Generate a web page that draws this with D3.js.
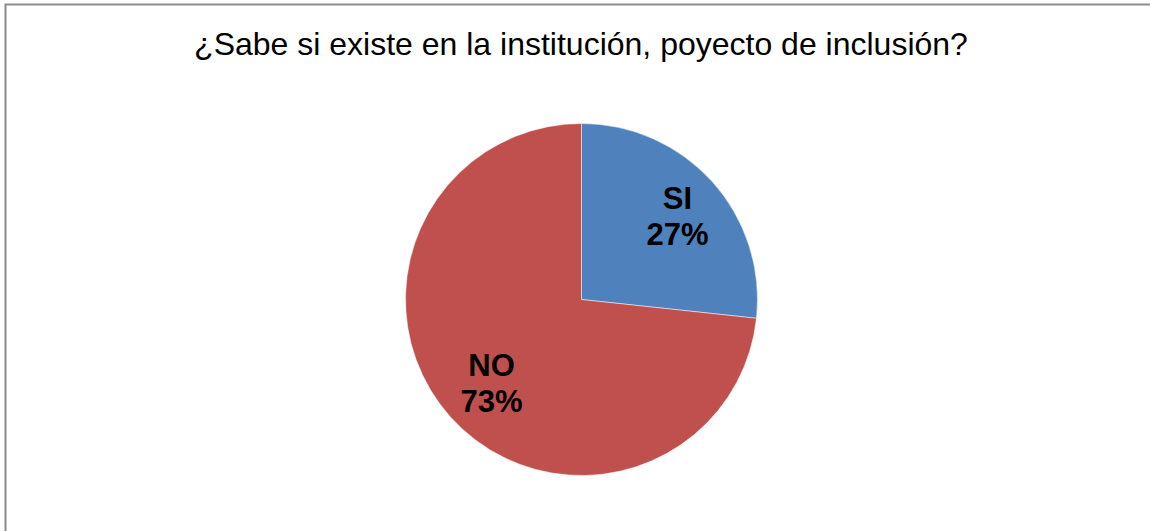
<!DOCTYPE html>
<html>
<head>
<meta charset="utf-8">
<script src="https://cdn.jsdelivr.net/npm/d3@7"></script>
<style>
  html, body { margin: 0; padding: 0; background: #fff; }
  svg { display: block; }
</style>
</head>
<body>
<svg id="chart" width="1150" height="531"></svg>
<script>
const title = "¿Sabe si existe en la institución, poyecto de inclusión?";
const categories = ["SI", "NO"];
const values = [26.7, 73.3];
const colors = ["#4F81BD", "#C0504D"];

const W = 1150, H = 531;
const svg = d3.select("#chart");

// chart border
svg.append("rect")
  .attr("x", 5.5).attr("y", 4.5)
  .attr("width", W + 10).attr("height", H + 10)
  .attr("fill", "#fff")
  .attr("stroke", "#8c8c8c")
  .attr("stroke-width", 2);

svg.append("text")
  .attr("x", 581).attr("y", 55)
  .attr("text-anchor", "middle")
  .attr("font-family", "Liberation Sans, Arial, sans-serif")
  .attr("font-size", 32)
  .attr("fill", "#000")
  .text(title);

const cx = 581.5, cy = 299.5, r = 176;
const data = categories.map((c, i) => ({ cat: c, value: values[i], color: colors[i] }));
const total = d3.sum(values);

const pie = d3.pie().value(d => d.value).sort(null);
const arc = d3.arc().innerRadius(0).outerRadius(r);
const labelArc = d3.arc().innerRadius(r * 0.71).outerRadius(r * 0.71);

const g = svg.append("g").attr("transform", `translate(${cx},${cy})`);
const arcs = pie(data);

g.selectAll("path.slice").data(arcs).join("path")
  .attr("class", "slice")
  .attr("d", arc)
  .attr("fill", d => d.data.color)
  .attr("stroke", "#fff")
  .attr("stroke-width", 0.5);

const lab = g.selectAll("text.lab").data(arcs).join("text")
  .attr("class", "lab")
  .attr("transform", d => {
    const [x, y] = labelArc.centroid(d);
    return `translate(${x + 3},${y})`;
  })
  .attr("text-anchor", "middle")
  .attr("font-family", "Liberation Sans, Arial, sans-serif")
  .attr("font-weight", "bold")
  .attr("font-size", 31)
  .attr("fill", "#000");
lab.append("tspan").attr("x", 0).attr("dy", "-0.24em").text(d => d.data.cat);
lab.append("tspan").attr("x", 0).attr("dy", "1.18em").text(d => Math.round(d.data.value / total * 100) + "%");
</script>
</body>
</html>
